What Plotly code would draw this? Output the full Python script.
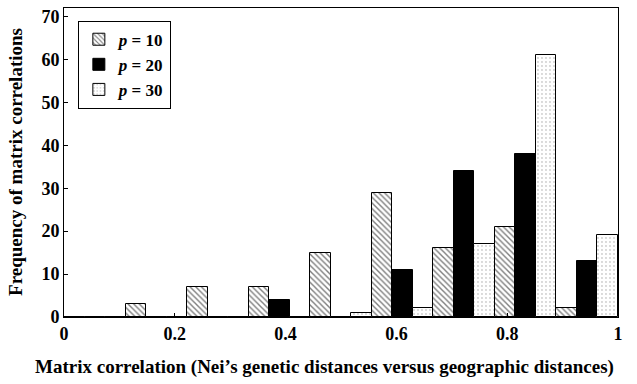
import plotly.graph_objects as go

# Bin centres (9 bins over [0, 1])
bin_centers = [1/18, 3/18, 5/18, 7/18, 9/18, 11/18, 13/18, 15/18, 17/18]
p10 = [0, 3, 7, 7, 15, 29, 16, 21, 2]
p20 = [0, 0, 0, 4, 0, 11, 34, 38, 13]
p30 = [0, 0, 0, 0, 1, 2, 17, 61, 19]
series_names = ["<i>p</i> = 10", "<i>p</i> = 20", "<i>p</i> = 30"]
x_ticks = [0, 0.2, 0.4, 0.6, 0.8, 1]
x_ticklabels = ["0", "0.2", "0.4", "0.6", "0.8", "1"]
y_ticks = [0, 10, 20, 30, 40, 50, 60, 70]

FONT = "Liberation Serif"

fig = go.Figure()
fig.add_trace(go.Bar(
    x=bin_centers, y=p10, name=series_names[0],
    marker=dict(color="white", line=dict(color="black", width=1),
                pattern=dict(shape="\\", fgcolor="black", bgcolor="white", size=4, solidity=0.35)),
))
fig.add_trace(go.Bar(
    x=bin_centers, y=p20, name=series_names[1],
    marker=dict(color="black", line=dict(color="black", width=1)),
))
fig.add_trace(go.Bar(
    x=bin_centers, y=p30, name=series_names[2],
    marker=dict(color="white", line=dict(color="black", width=1),
                pattern=dict(shape=".", fgcolor="#444", bgcolor="white", size=4, solidity=0.1)),
))

fig.update_layout(
    width=637, height=384,
    margin=dict(l=64, r=19, t=8, b=67),
    paper_bgcolor="white", plot_bgcolor="white",
    barmode="group", bargap=0, bargroupgap=0,
    font=dict(family=FONT, size=18, color="black", weight="bold"),
    showlegend=True,
    legend=dict(x=0.025, y=0.959, xanchor="left", yanchor="top",
                bordercolor="black", borderwidth=1, bgcolor="white",
                font=dict(family=FONT, size=17, color="black", weight="bold"),
                tracegroupgap=0),
    xaxis=dict(range=[0, 1], tickvals=x_ticks, ticktext=x_ticklabels,
               showline=True, linecolor="black", linewidth=1, mirror=True,
               ticks="inside", ticklen=4, tickcolor="black",
               showgrid=False, zeroline=False,
               tickfont=dict(family=FONT, size=18, weight="bold")),
    yaxis=dict(range=[0, 72], tickvals=y_ticks,
               showline=True, linecolor="black", linewidth=1, mirror=True,
               ticks="inside", ticklen=4, tickcolor="black",
               showgrid=False, zeroline=False,
               tickfont=dict(family=FONT, size=18, weight="bold")),
    annotations=[
        dict(text="Matrix correlation (Nei’s genetic distances versus geographic distances)",
             xref="paper", yref="paper", x=0.470, y=-0.162, showarrow=False,
             xanchor="center", yanchor="middle",
             font=dict(family=FONT, size=19, weight="bold")),
        dict(text="Frequency of matrix correlations",
             xref="paper", yref="paper", x=-0.0866, y=0.502, showarrow=False,
             textangle=-90, xanchor="center", yanchor="middle",
             font=dict(family=FONT, size=19, weight="bold")),
    ],
)

fig.write_html("out.html")
